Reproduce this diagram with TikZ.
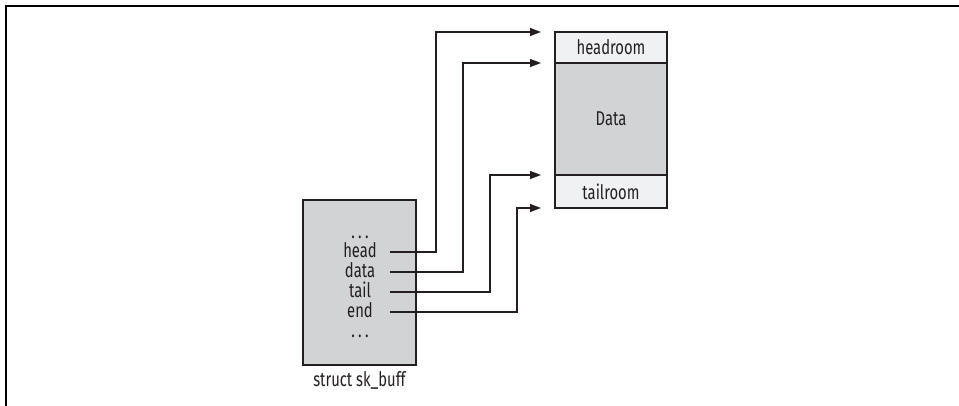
\documentclass[tikz,border=0pt]{standalone}
\usepackage{fontspec}
\setmainfont[FakeStretch=0.74]{Fira Sans}
\usetikzlibrary{positioning,arrows.meta}
\definecolor{boxgray}{RGB}{210,211,213}
\definecolor{roomgray}{RGB}{240,241,243}
\definecolor{ink}{RGB}{35,31,32}
\begin{document}
\begin{tikzpicture}[x=0.5pt,y=-0.5pt,
    font=\fontsize{10}{11}\selectfont, text=ink,
    field/.style={inner sep=0pt, anchor=base},
    part/.style={draw=ink, line width=0.6pt, inner sep=0pt, outer sep=0pt, minimum width=56pt},
    ptr/.style={draw=ink, line width=0.6pt, -{Triangle[length=5.5pt,width=4pt]}}]
  \useasboundingbox (0,0) rectangle (959,406);
  \draw[line width=0.9pt] (6,406) -- (6,6) -- (959,6);
  % struct sk_buff
  \node[part, fill=boxgray, minimum width=56.5pt, minimum height=82.5pt] (skbuff) at (359.5,282.5) {};
  \node[below=3pt of skbuff, inner sep=0pt] (skname) {struct sk\_buff};
  \node[field] (dots1) at (360,239) {.\,.\,.};
  \node[field] (head) at (360,258) {head};
  \node[field] (data) at (360,278) {data};
  \node[field] (tail) at (360,298) {tail};
  \node[field] (end) at (360,318) {end};
  \node[field] (dots2) at (360,337) {.\,.\,.};
  % buffer
  \node[part, fill=roomgray, minimum height=15.5pt] (headroom) at (611,47.5) {headroom};
  \node[part, fill=boxgray, minimum height=56pt, below=0pt of headroom] (payload) {Data};
  \node[part, fill=roomgray, minimum height=16.5pt, below=0pt of payload] (tailroom) {tailroom};
  \coordinate (ptrstart) at (390,0);
  \coordinate (tohead) at ([xshift=-7pt]headroom.north west);
  \coordinate (todata) at ([xshift=-7pt]payload.north west);
  \coordinate (totail) at ([xshift=-7pt]tailroom.north west);
  \coordinate (toend) at ([xshift=-7pt]tailroom.south west);
  \begin{scope}[ptr]
    \draw ([yshift=3pt]head.base -| ptrstart) -- ++(46,0) |- (tohead);
    \draw ([yshift=3pt]data.base -| ptrstart) -- ++(73,0) |- (todata);
    \draw ([yshift=3pt]tail.base -| ptrstart) -- ++(100,0) |- (totail);
    \draw ([yshift=3pt]end.base -| ptrstart) -- ++(127,0) |- (toend);
  \end{scope}
\end{tikzpicture}
\end{document}
